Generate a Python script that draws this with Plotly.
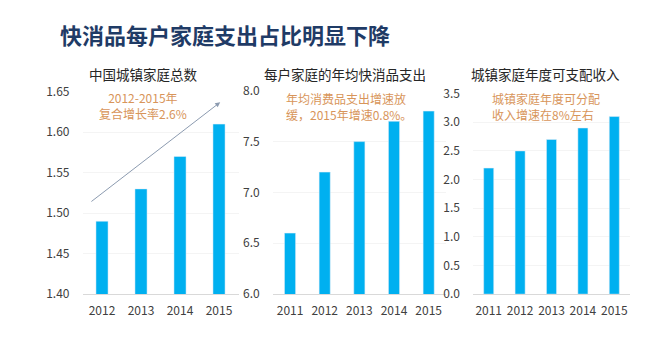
import plotly.graph_objects as go

# Data
years_households = ["2012", "2013", "2014", "2015"]
urban_households = [1.49, 1.53, 1.57, 1.61]

years_fmcg = ["2011", "2012", "2013", "2014", "2015"]
fmcg_spend = [6.6, 7.2, 7.5, 7.7, 7.8]

years_income = ["2011", "2012", "2013", "2014", "2015"]
disposable_income = [2.2, 2.5, 2.7, 2.9, 3.1]

W, H = 662, 342
BAR = "#00B0F0"
NOTE = "#D8955A"
TICK = "#404040"
FONT = "Microsoft YaHei, Noto Sans CJK SC, sans-serif"


def px_x(v):
    return v / W


def px_y(v):
    return 1 - v / H


fig = go.Figure()
fig.add_trace(go.Bar(x=years_households, y=urban_households, marker_color=BAR,
                     width=0.31, xaxis="x", yaxis="y"))
fig.add_trace(go.Bar(x=years_fmcg, y=fmcg_spend, marker_color=BAR,
                     width=0.32, xaxis="x2", yaxis="y2"))
fig.add_trace(go.Bar(x=years_income, y=disposable_income, marker_color=BAR,
                     width=0.32, xaxis="x3", yaxis="y3"))

xcommon = dict(type="category", showline=True, linecolor="#D9D9D9", linewidth=1,
               showgrid=False, ticks="", tickfont=dict(size=12, color=TICK, family=FONT),
               ticklabelstandoff=5, fixedrange=True)
ycommon = dict(showline=False, showgrid=True, gridcolor="#F4F4F4", zeroline=False,
               ticks="", tickfont=dict(size=12, color=TICK, family=FONT),
               ticklabelstandoff=12, fixedrange=True)

fig.update_layout(
    width=W, height=H,
    margin=dict(l=0, r=0, t=0, b=0),
    paper_bgcolor="white", plot_bgcolor="white",
    showlegend=False,
    bargap=0.6,
    font=dict(family=FONT),
    xaxis=dict(xcommon, domain=[px_x(82.5), px_x(238.5)], anchor="y", range=[-0.5, 3.5]),
    yaxis=dict(ycommon, domain=[px_y(299), px_y(86)], anchor="x",
               range=[1.40, 1.65], dtick=0.05, tick0=1.40, tickformat=".2f"),
    xaxis2=dict(xcommon, domain=[px_x(272.7), px_x(446)], anchor="y2", range=[-0.5, 4.5]),
    yaxis2=dict(ycommon, domain=[px_y(299), px_y(85)], anchor="x2",
                range=[6.0, 8.0], dtick=0.5, tick0=6.0, tickformat=".1f"),
    xaxis3=dict(xcommon, domain=[px_x(473), px_x(630)], anchor="y3", range=[-0.5, 4.5]),
    yaxis3=dict(ycommon, domain=[px_y(299), px_y(88)], anchor="x3",
                range=[0.0, 3.5], dtick=0.5, tick0=0.0, tickformat=".1f"),
)

annotations = [
    # main heading
    dict(text="<b>快消品每户家庭支出占比明显下降</b>", x=px_x(58), y=px_y(25),
         xanchor="left", yanchor="middle",
         font=dict(size=22, color="#1F3B66", family=FONT)),
    # panel titles
    dict(text="中国城镇家庭总数", x=px_x(143), y=px_y(67), xanchor="center", yanchor="middle",
         font=dict(size=13.5, color="#262626", family=FONT)),
    dict(text="每户家庭的年均快消品支出", x=px_x(345), y=px_y(67), xanchor="center", yanchor="middle",
         font=dict(size=13.5, color="#262626", family=FONT)),
    dict(text="城镇家庭年度可支配收入", x=px_x(545), y=px_y(67), xanchor="center", yanchor="middle",
         font=dict(size=13.5, color="#262626", family=FONT)),
    # callouts
    dict(text="2012-2015年<br>复合增长率2.6%", x=px_x(143), y=px_y(100), xanchor="center",
         yanchor="middle", align="center", font=dict(size=12, color=NOTE, family=FONT)),
    dict(text="年均消费品支出增速放<br>缓，2015年增速0.8%。", x=px_x(284), y=px_y(102),
         xanchor="left", yanchor="middle", align="left", font=dict(size=12, color=NOTE, family=FONT)),
    dict(text="城镇家庭年度可分配<br>收入增速在8%左右", x=px_x(490), y=px_y(102),
         xanchor="left", yanchor="middle", align="left", font=dict(size=12, color=NOTE, family=FONT)),
]
for a in annotations:
    a.setdefault("xref", "paper")
    a.setdefault("yref", "paper")
    a["showarrow"] = False
    fig.add_annotation(**a)

# growth trend arrow across the household panel
fig.add_annotation(x=3.03, y=1.637, ax=-0.31, ay=1.513, xref="x", yref="y",
                   axref="x", ayref="y", text="", showarrow=True,
                   arrowhead=2, arrowsize=1, arrowwidth=1, arrowcolor="#8C9BB0")

fig.write_html("out.html")
